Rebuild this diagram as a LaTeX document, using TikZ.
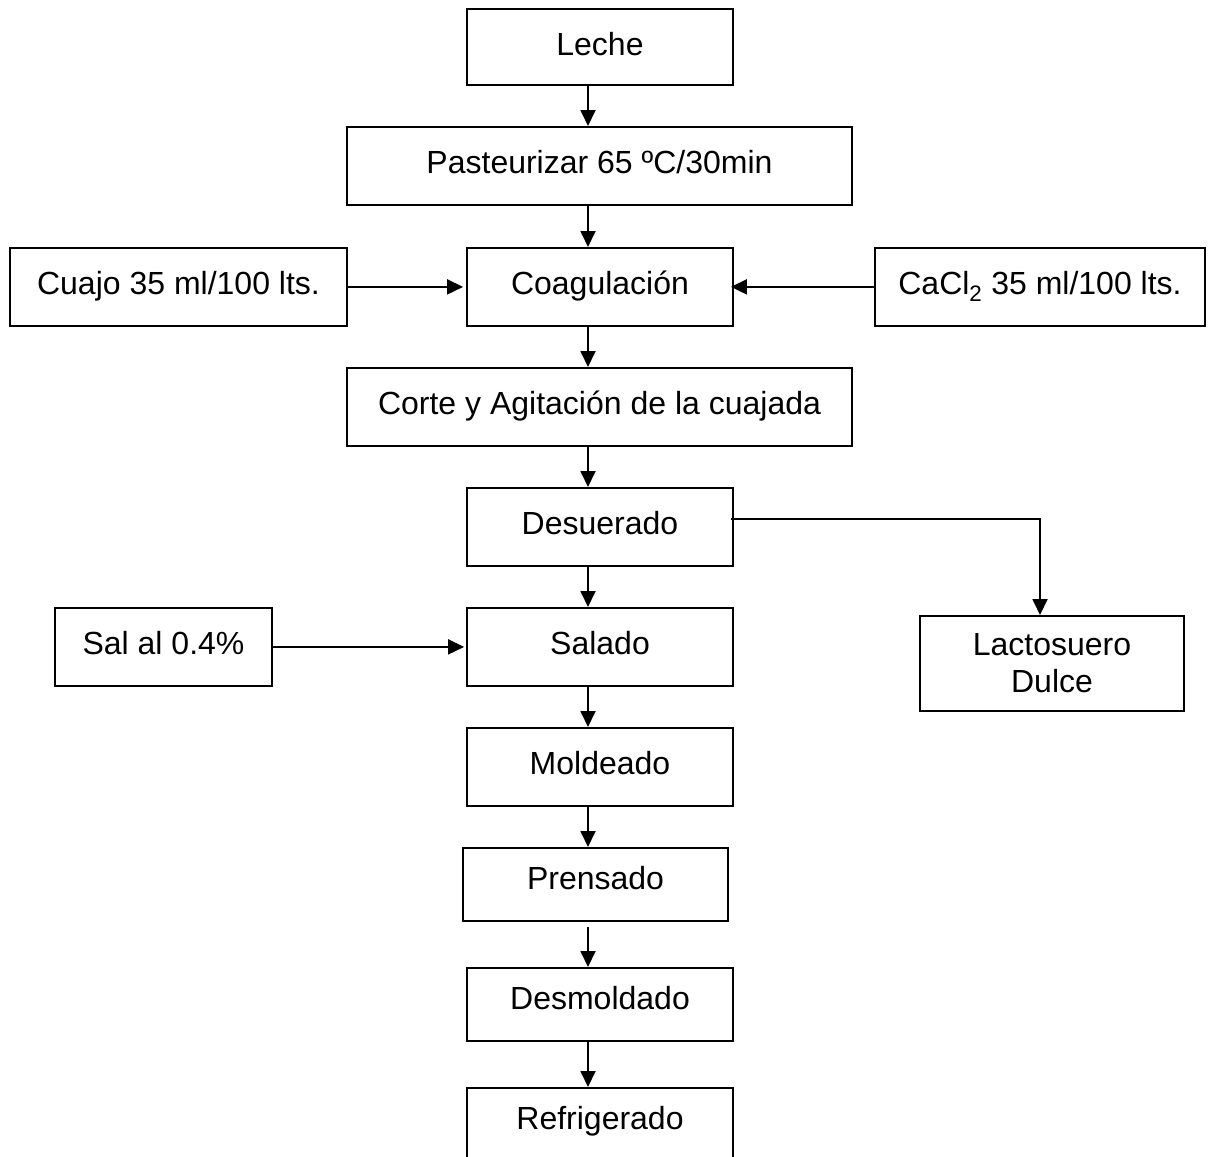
\documentclass[tikz,border=0pt]{standalone}
\usepackage{fontspec}
\setmainfont{Liberation Sans}
\usetikzlibrary{arrows.meta}
\begin{document}
\begin{tikzpicture}[x=1pt,y=-1pt,
  box/.style={draw=black, line width=1.8pt, inner sep=0pt, anchor=north,
    font=\fontsize{32}{38}\selectfont, text height=47pt, text depth=31pt},
  arr/.style={line width=1.8pt, -{Triangle[length=16pt,width=15pt]}}]
\useasboundingbox[fill=white] (0,0) rectangle (1212,1156);
\coordinate (col) at (588,0);
\node[box, minimum width=266pt, text depth=29pt] (leche) at (600,8) {Leche};
\node[box, minimum width=505pt] (past) at (599.5,126) {Pasteurizar 65 ºC/30min};
\node[box, minimum width=337pt] (cuajo) at (178.5,247) {Cuajo 35 ml/100 lts.};
\node[box, minimum width=266pt] (coag) at (600,247) {Coagulación};
\node[box, minimum width=330pt] (cacl) at (1040,247) {CaCl\textsubscript{2} 35 ml/100 lts.};
\node[box, minimum width=505pt] (corte) at (599.5,367) {Corte y Agitación de la cuajada};
\node[box, minimum width=266pt] (des) at (600,487) {Desuerado};
\node[box, minimum width=217pt] (sal) at (163.5,607) {Sal al 0.4\%};
\node[box, minimum width=266pt] (salado) at (600,607) {Salado};
\node[draw=black, line width=1.8pt, inner sep=0pt, anchor=north, align=center,
  font=\fontsize{32}{37}\selectfont, minimum width=264pt, minimum height=95pt]
  (lacto) at (1052,615) {Lactosuero\\Dulce};
\node[box, minimum width=266pt] (mold) at (600,727) {Moldeado};
\node[box, minimum width=265pt, text height=42pt] (pren) at (595.5,847) {Prensado};
\node[box, minimum width=266pt, text height=42pt] (desm) at (600,967) {Desmoldado};
\node[box, minimum width=266pt, text height=42pt, text depth=60pt] (refr) at (600,1087) {Refrigerado};
\draw[arr] (leche.south -| col) -- (past.north -| col);
\draw[arr] (past.south -| col) -- (coag.north -| col);
\draw[arr] (coag.south -| col) -- (corte.north -| col);
\draw[arr] (corte.south -| col) -- (des.north -| col);
\draw[arr] (des.south -| col) -- (salado.north -| col);
\draw[arr] (salado.south -| col) -- (mold.north -| col);
\draw[arr] (mold.south -| col) -- (pren.north -| col);
\draw[arr] ([yshift=-5pt]pren.south -| col) -- (desm.north -| col);
\draw[arr] (desm.south -| col) -- (refr.north -| col);
\draw[arr, shorten >=3pt] (cuajo.east) -- (coag.west);
\draw[arr, shorten >=-3pt] (cacl.west) -- (coag.east);
\draw[arr, shorten >=2pt] (sal.east) -- (salado.west);
\draw[arr] ([xshift=-3pt,yshift=8pt]des.east) -| ([xshift=-12pt]lacto.north);
\end{tikzpicture}
\end{document}
